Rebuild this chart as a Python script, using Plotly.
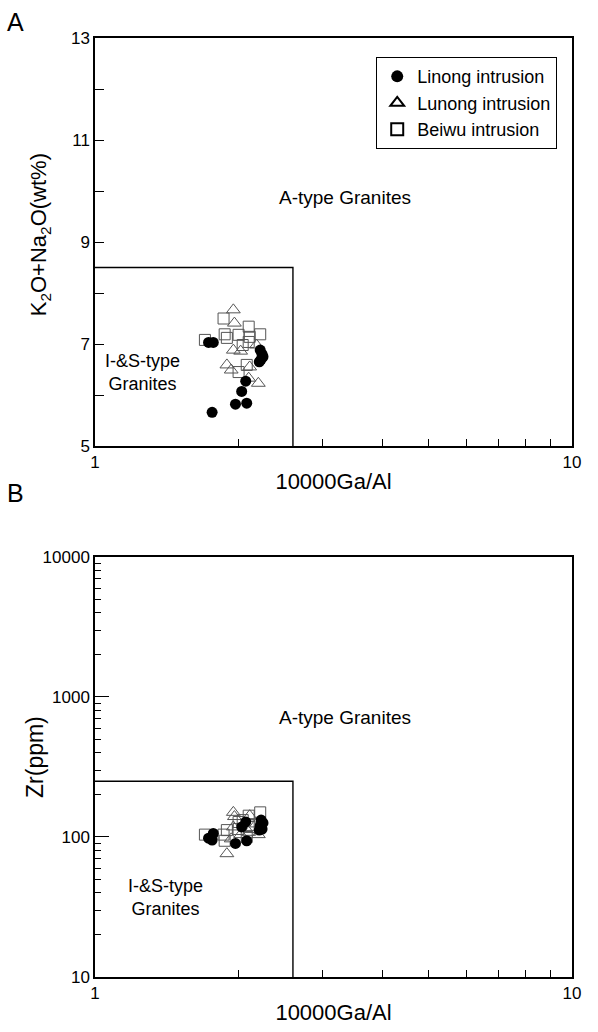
import plotly.graph_objects as go
from plotly.subplots import make_subplots

# ---- data ----
linong_gaal = [1.73, 1.77, 2.22, 2.24, 2.25, 2.23, 2.21, 2.07, 2.03, 2.08, 1.97, 1.76]
linong_alk = [7.03, 7.03, 6.88, 6.80, 6.75, 6.70, 6.65, 6.27, 6.07, 5.84, 5.82, 5.66]
linong_zr = [98, 106, 120, 114, 126, 132, 112, 128, 118, 94, 90, 95]

lunong_gaal = [1.95, 1.96, 1.95, 2.02, 2.18, 1.89, 1.93, 2.11, 2.10, 2.20]
lunong_alk = [7.67, 7.41, 6.88, 6.86, 6.98, 6.59, 6.49, 6.55, 6.33, 6.23]
lunong_zr = [150, 140, 118, 104, 124, 76, 97, 142, 108, 104]

beiwu_gaal = [1.86, 1.70, 1.87, 1.89, 2.10, 2.00, 2.11, 2.22, 2.04, 2.08, 2.00, 2.10]
beiwu_alk = [7.50, 7.08, 7.19, 7.12, 7.34, 7.18, 7.14, 7.19, 6.98, 6.59, 6.45, 7.04]
beiwu_zr = [104, 104, 94, 112, 142, 128, 118, 150, 132, 100, 114, 122]

# classification boundaries
box_gaal = 2.6
box_alk = 8.5
box_zr = 250

x_ticks = [1, 2, 3, 4, 5, 6, 7, 8, 9, 10]
x_ticktext = ["1", "", "", "", "", "", "", "", "", "10"]
alk_major = [5, 7, 9, 11, 13]
alk_minor = [6, 8, 10, 12]
zr_major = [10, 100, 1000, 10000]
zr_major_text = ["10", "100", "1000", "10000"]
zr_minor = [v * m for v in [10, 100, 1000] for m in range(2, 10)]

FONT = "Liberation Sans, Arial, sans-serif"

fig = make_subplots(rows=2, cols=1)

open_col = "#555555"
series = [
    ("Linong intrusion", linong_gaal, linong_alk, linong_zr,
     dict(symbol="circle", size=11, color="black", line=dict(width=0))),
    ("Lunong intrusion", lunong_gaal, lunong_alk, lunong_zr,
     dict(symbol="triangle-up-open", size=12, color=open_col, line=dict(width=1))),
    ("Beiwu intrusion", beiwu_gaal, beiwu_alk, beiwu_zr,
     dict(symbol="square-open", size=11, color=open_col, line=dict(width=1))),
]

for i in [1, 2, 0]:
    name, xs, ya, yz, mk = series[i]
    fig.add_trace(go.Scatter(x=xs, y=ya, mode="markers", name=name, marker=mk,
                             showlegend=False), row=1, col=1)
    fig.add_trace(go.Scatter(x=xs, y=yz, mode="markers", name=name, marker=mk,
                             showlegend=False), row=2, col=1)
for name, xs, ya, yz, mk in series:
    leg_mk = dict(mk)
    leg_mk["size"] = mk["size"] + 3
    leg_mk["color"] = "black"
    fig.add_trace(go.Scatter(x=[None], y=[None], mode="markers", name=name,
                             marker=leg_mk, showlegend=True), row=1, col=1)

# boundary lines
fig.add_trace(go.Scatter(x=[1, box_gaal, box_gaal], y=[box_alk, box_alk, 5],
                         mode="lines", line=dict(color="black", width=1.4),
                         showlegend=False, hoverinfo="skip"), row=1, col=1)
fig.add_trace(go.Scatter(x=[1, box_gaal, box_gaal], y=[box_zr, box_zr, 10],
                         mode="lines", line=dict(color="black", width=1.4),
                         showlegend=False, hoverinfo="skip"), row=2, col=1)

axis_common = dict(showline=True, mirror=True, linecolor="black", linewidth=1.5,
                   showgrid=False, zeroline=False, ticks="inside", tickcolor="black",
                   tickfont=dict(family=FONT, size=17, color="black"))

title_font = dict(family=FONT, size=22, color="black")

fig.update_xaxes(type="log", range=[0, 1], tickmode="array", tickvals=x_ticks,
                 ticktext=x_ticktext, ticklen=7, tickwidth=1.2,
                 title=dict(text="10000Ga/Al", font=title_font, standoff=2),
                 **axis_common)

fig.update_yaxes(row=1, col=1, range=[5, 13], tickmode="array", tickvals=alk_major,
                 ticklen=9, tickwidth=1.2,
                 minor=dict(tickmode="array", tickvals=alk_minor, ticks="inside",
                            ticklen=9, tickcolor="black", tickwidth=1.2),
                 domain=[0.5655, 1], **axis_common)
fig.update_yaxes(row=2, col=1, type="log", range=[1, 4], tickmode="array",
                 tickvals=zr_major, ticktext=zr_major_text, ticklen=14, tickwidth=1.2,
                 minor=dict(tickmode="array", tickvals=zr_minor, ticks="inside",
                            ticklen=6, tickcolor="black", tickwidth=1.2),
                 domain=[0, 0.4473], **axis_common)

ann_font = dict(family=FONT, size=18, color="black")
annotations = [
    dict(x=0.524, y=9.88, xref="x", yref="y", text="A-type Granites",
         showarrow=False, font=dict(family=FONT, size=19, color="black")),
    dict(x=0.10, y=6.45, xref="x", yref="y", text="I-&S-type<br>Granites",
         showarrow=False, font=ann_font),
    dict(x=0.524, y=2.857, xref="x2", yref="y2", text="A-type Granites",
         showarrow=False, font=dict(family=FONT, size=19, color="black")),
    dict(x=0.147, y=1.57, xref="x2", yref="y2", text="I-&S-type<br>Granites",
         showarrow=False, font=ann_font),
    dict(x=-0.115, y=0.7901, xref="paper", yref="paper",
         text="K<sub>2</sub>O+Na<sub>2</sub>O(wt%)", textangle=-90, showarrow=False,
         xanchor="center", yanchor="middle", font=dict(family=FONT, size=22, color="black")),
    dict(x=-0.1258, y=0.2343, xref="paper", yref="paper", text="Zr(ppm)",
         textangle=-90, showarrow=False, xanchor="center", yanchor="middle",
         font=dict(family=FONT, size=23, color="black")),
    dict(x=-0.1677, y=1.017, xref="paper", yref="paper", text="A", showarrow=False,
         xanchor="center", yanchor="middle", font=dict(family=FONT, size=25, color="black")),
    dict(x=-0.1677, y=0.5154, xref="paper", yref="paper", text="B", showarrow=False,
         xanchor="center", yanchor="middle", font=dict(family=FONT, size=25, color="black")),
]

fig.update_layout(
    width=598, height=1032,
    margin=dict(l=95, r=26, t=38, b=55),
    plot_bgcolor="white", paper_bgcolor="white",
    font=dict(family=FONT, color="black"),
    legend=dict(x=0.9686, y=0.9798, xanchor="right", yanchor="top",
                bordercolor="black", borderwidth=1.2, bgcolor="white",
                font=dict(family=FONT, size=18, color="black"),
                tracegroupgap=0, itemsizing="constant"),
    annotations=annotations,
)
fig.write_html("out.html")
